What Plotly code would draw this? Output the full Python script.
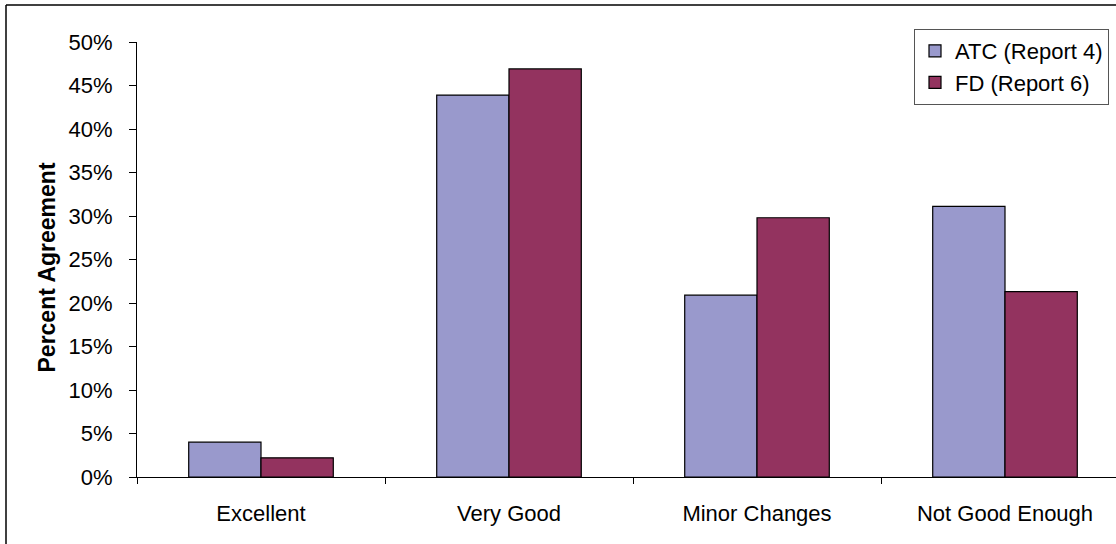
import plotly.graph_objects as go

categories = ["Excellent", "Very Good", "Minor Changes", "Not Good Enough"]
atc_values = [4.0, 43.9, 20.9, 31.1]
fd_values = [2.2, 46.9, 29.8, 21.3]
series_names = ["ATC (Report 4)", "FD (Report 6)"]
y_tick_values = [0, 5, 10, 15, 20, 25, 30, 35, 40, 45, 50]
y_tick_labels = [f"{v}%" for v in y_tick_values]

W, H = 1116, 544
L, R, T, B = 137, 0, 42, 544 - 477
PW, PH = W - L - R, H - T - B

def px_x(p):
    return (p - L) / PW

def px_y(p):
    return (H - B - p) / PH

FONT = "Liberation Sans, Arial, sans-serif"

fig = go.Figure()
fig.add_trace(go.Bar(
    x=categories, y=atc_values, name=series_names[0], legendgroup="a",
    marker=dict(color="#9999CC", line=dict(color="black", width=1.2)),
))
fig.add_trace(go.Bar(
    x=categories, y=fd_values, name=series_names[1], legendgroup="b",
    marker=dict(color="#93335F", line=dict(color="black", width=1.2)),
))

fig.update_layout(
    width=W, height=H,
    margin=dict(l=L, r=R, t=T, b=B, pad=0),
    paper_bgcolor="white", plot_bgcolor="white",
    font=dict(family=FONT, size=22, color="black"),
    barmode="group", bargap=0.417, bargroupgap=0,
    showlegend=True,
    legend=dict(
        x=px_x(914), y=px_y(29), xanchor="left", yanchor="top",
        bgcolor="white", bordercolor="#555555", borderwidth=1,
        font=dict(family=FONT, size=22, color="black"),
        tracegroupgap=8, traceorder="normal",
    ),
    xaxis=dict(
        range=[-0.5, -0.5 + PW / 248.0], showline=True, linecolor="black", linewidth=1,
        ticks="outside", tickson="boundaries", ticklen=6, tickcolor="black",
        showgrid=False, zeroline=False, ticklabelstandoff=17,
        tickfont=dict(family=FONT, size=22),
    ),
    yaxis=dict(
        range=[0, 50], tickvals=y_tick_values, ticktext=y_tick_labels,
        showline=True, linecolor="black", linewidth=1,
        ticks="outside", ticklen=7, tickcolor="black",
        showgrid=False, zeroline=False, ticklabelstandoff=12,
        tickfont=dict(family=FONT, size=22),
    ),
    annotations=[dict(
        text="<b>Percent Agreement</b>", textangle=-90,
        xref="paper", yref="paper", x=px_x(46), y=px_y(267.5),
        xanchor="center", yanchor="middle", showarrow=False,
        font=dict(family=FONT, size=23, color="black"),
    )],
    shapes=[
        dict(type="line", xref="paper", yref="paper",
             x0=px_x(6), x1=px_x(6), y0=px_y(5), y1=px_y(560),
             line=dict(color="black", width=1.5)),
        dict(type="line", xref="paper", yref="paper",
             x0=px_x(6), x1=px_x(1130), y0=px_y(5), y1=px_y(5),
             line=dict(color="black", width=1.5)),
    ],
)

fig.write_html(
    "out.html",
    config={"displayModeBar": False},
    post_script="document.body.style.margin='0';document.body.style.padding='0';",
)
